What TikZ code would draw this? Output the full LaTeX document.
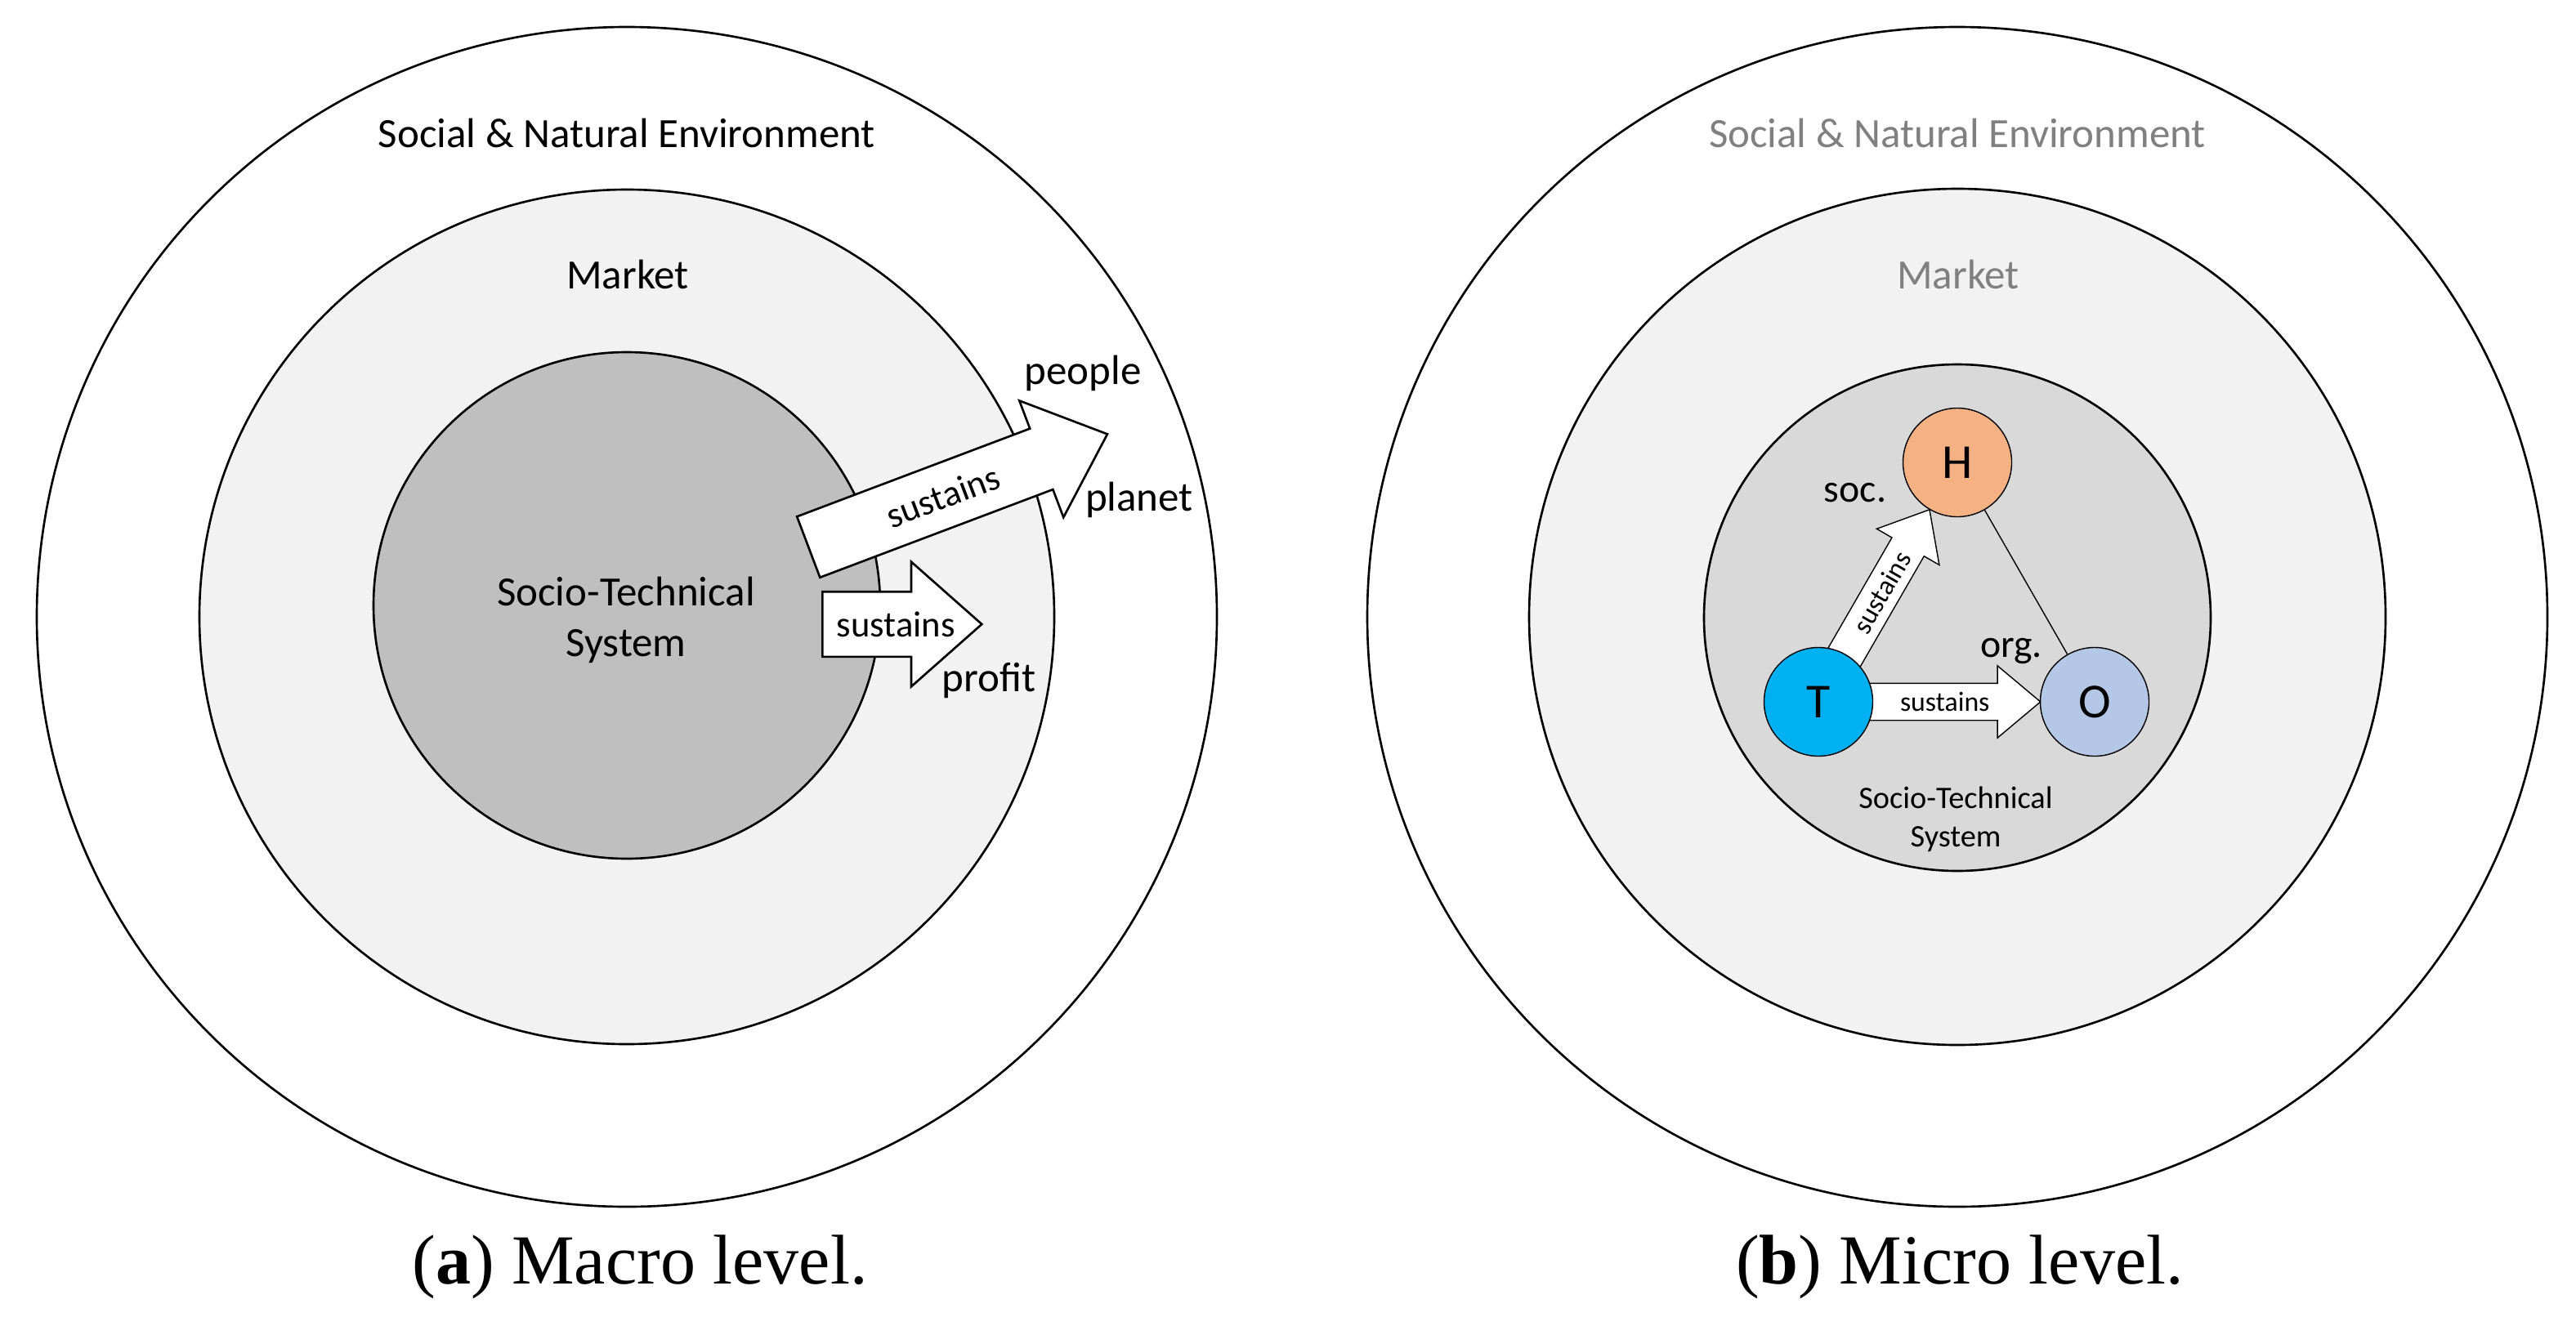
\documentclass[tikz,border=0pt]{standalone}
\usepackage{fontspec}
\setmainfont{Carlito}
\newfontfamily\capfont{Liberation Serif}
\usetikzlibrary{shapes.arrows, calc}
\definecolor{cmarket}{HTML}{F2F2F2}
\definecolor{cstsdark}{HTML}{BFBFBF}
\definecolor{cstslight}{HTML}{D9D9D9}
\definecolor{cfaded}{HTML}{808080}
\definecolor{chuman}{HTML}{F4B183}
\definecolor{ctech}{HTML}{00B0F0}
\definecolor{corg}{HTML}{B4C7E7}
\pgfdeclarelayer{front}
\pgfsetlayers{main,front}
\tikzset{
  every picture/.style={line width=0.75pt},
  ring/.style={circle, draw, inner sep=0pt, minimum size=#1},
  lbl/.style={font=\fontsize{14.5}{17.7}\selectfont, align=center, inner sep=0pt},
  stslbl/.style={font=\fontsize{10.9}{13.3}\selectfont, align=center, inner sep=0pt},
  sidelbl/.style={font=\fontsize{13.6}{16}\selectfont, inner sep=0pt, anchor=base},
  tag/.style={font=\fontsize{12.7}{15}\selectfont, inner sep=0pt},
  tinytag/.style={font=\fontsize{9.6}{11}\selectfont, inner sep=0pt},
  captxt/.style={font=\capfont\fontsize{24.5}{29}\selectfont, inner sep=0pt, anchor=base},
  agent/.style={circle, draw, fill=#1, inner sep=0pt, minimum size=1.33cm, font=\fontsize{17}{20}\selectfont},
  bigarrow/.style={single arrow, draw, fill=white, inner sep=0pt, inner ysep=0.385cm, single arrow head extend=0.365cm, single arrow tip angle=83, minimum height=#1, anchor=tail},
  smallarrow/.style={single arrow, draw, fill=white, inner sep=0pt, inner ysep=0.22cm, single arrow head extend=0.215cm, single arrow tip angle=80, minimum height=#1, anchor=tail},
}

\begin{document}
\begin{tikzpicture}
  \useasboundingbox (0,0) rectangle (31.52,-16.22);
  % (a) macro level
  \node[ring=14.44cm, fill=white] (envA) at (7.67,-7.55) {};
  \node[ring=10.46cm, fill=cmarket] (marketA) at (7.67,-7.55) {};
  \node[ring=6.2cm, fill=cstsdark] (stsA) at (7.67,-7.41) {};
  \node[lbl, anchor=base] (envtxtA) at (7.67,-1.80) {Social \& Natural Environment};
  \node[lbl, anchor=base] (markettxtA) at (7.68,-3.53) {Market};
  \node[lbl] (ststxtA) at (7.66,-7.59) {Socio-Technical\\System};
  \node[bigarrow=3.91cm, rotate=20.7] (planetarrow) at (9.88,-6.70) {};
  \node[bigarrow=1.95cm] (profitarrow) at (10.05,-7.64) {};
  \node[tag, rotate=20.7] (planettag) at ($(planetarrow.tail)!0.45!(planetarrow.tip)$) {sustains};
  \node[tag] (profittag) at ($(profitarrow.tail)!0.46!(profitarrow.tip)$) {sustains};
  \node[lbl, anchor=base] (people) at (13.25,-4.70) {people};
  \node[lbl, anchor=base] (planet) at (13.94,-6.25) {planet};
  \node[lbl, anchor=base] (profit) at (12.10,-8.46) {profit};
  \node[captxt] (capA) at (7.83,-15.71) {(\textbf{a}) Macro level.};
  % (b) micro level
  \node[ring=14.44cm, fill=white] (envB) at (23.95,-7.55) {};
  \node[ring=10.48cm, fill=cmarket] (marketB) at (23.95,-7.55) {};
  \node[ring=6.2cm, fill=cstslight] (stsB) at (23.95,-7.56) {};
  \node[lbl, text=cfaded, anchor=base] (envtxtB) at (23.95,-1.80) {Social \& Natural Environment};
  \node[lbl, text=cfaded, anchor=base] (markettxtB) at (23.96,-3.53) {Market};
  \node[stslbl] (ststxtB) at (23.93,-10.03) {Socio-Technical\\System};
  \begin{pgfonlayer}{front}
    \node[agent=chuman] (H) at (23.95,-5.66) {H};
    \node[agent=ctech] (T) at (22.25,-8.59) {T};
    \node[agent=corg] (O) at (25.63,-8.59) {O};
  \end{pgfonlayer}
  \draw (H) -- (O);
  \node[smallarrow=2.21cm, rotate=60] (socarrow) at ($(T)!0.5cm!(H)$) {};
  \node[smallarrow=2.21cm] (orgarrow) at ($(T)!0.5cm!(O)$) {};
  \node[tinytag, rotate=60] (soctag) at ($(socarrow.tail)!0.47!(socarrow.tip)$) {sustains};
  \node[tinytag] (orgtag) at ($(orgarrow.tail)!0.47!(orgarrow.tip)$) {sustains};
  \node[sidelbl] (soc) at (22.70,-6.14) {soc.};
  \node[sidelbl] (org) at (24.61,-8.04) {org.};
  \node[captxt] (capB) at (23.98,-15.71) {(\textbf{b}) Micro level.};
\end{tikzpicture}
\end{document}
